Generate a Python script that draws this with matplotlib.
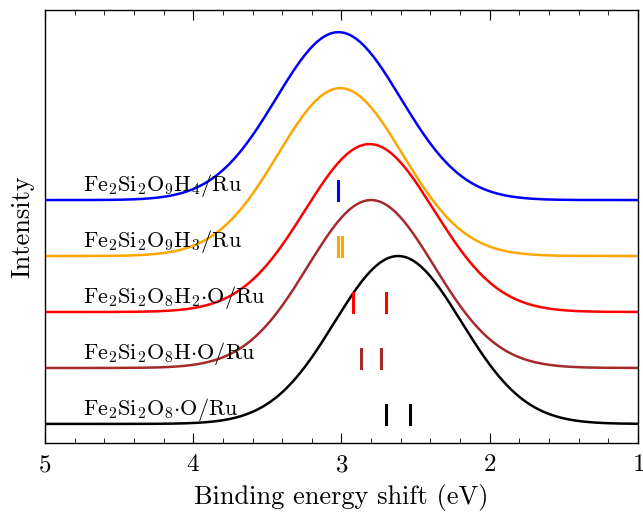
import numpy as np
import matplotlib
matplotlib.use("Agg")
import matplotlib.pyplot as plt
from matplotlib.ticker import MultipleLocator

plt.rcParams['font.family'] = 'serif'
plt.rcParams['font.serif'] = ['cmr10']
plt.rcParams['mathtext.fontset'] = 'cm'
plt.rcParams['axes.formatter.use_mathtext'] = True

# structures, bottom to top
labels = [r'$\mathrm{Fe_2Si_2O_8{\cdot}O/Ru}$',
          r'$\mathrm{Fe_2Si_2O_8H{\cdot}O/Ru}$',
          r'$\mathrm{Fe_2Si_2O_8H_2{\cdot}O/Ru}$',
          r'$\mathrm{Fe_2Si_2O_9H_3/Ru}$',
          r'$\mathrm{Fe_2Si_2O_9H_4/Ru}$']
colors = ['black', 'brown', 'red', 'orange', 'blue']
# core-level shifts (eV) of the individual Fe sites
sticks = [[2.70, 2.535],
          [2.87, 2.73],
          [2.92, 2.70],
          [3.02, 2.995],
          [3.02]]

sigma = 0.42
offset = 1.0 / 3.0
stick_h = 0.115

x = np.linspace(1, 5, 800)

fig, ax = plt.subplots(figsize=(6.43, 5.12), dpi=100)
for i, (lab, c, s) in enumerate(zip(labels, colors, sticks)):
    y = np.zeros_like(x)
    for e in s:
        y += np.exp(-(x - e) ** 2 / (2 * sigma ** 2))
    y = y / y.max() + i * offset
    ax.plot(x, y, color=c, lw=1.8)
    for e in s:
        ax.plot([e, e], [i * offset, i * offset + stick_h], color=c, lw=2.2)
    ax.text(4.745, i * offset + 0.085, lab, fontsize=16, va='center', ha='left')

ax.set_xlim(5, 1)
ax.set_ylim(-0.113, 2.464)
ax.set_yticks([])
ax.xaxis.set_major_locator(MultipleLocator(1))
ax.xaxis.set_minor_locator(MultipleLocator(0.2))
ax.tick_params(axis='x', which='both', direction='in', top=True, labelsize=18, pad=8)
ax.tick_params(axis='x', which='major', length=7)
ax.tick_params(axis='x', which='minor', length=3.5)
for sp in ax.spines.values():
    sp.set_linewidth(1.0)
ax.set_xlabel('Binding energy shift (eV)', fontsize=19, labelpad=6)
ax.set_ylabel('Intensity', fontsize=19, labelpad=8)

fig.subplots_adjust(left=0.070, right=0.992, top=0.980, bottom=0.135)
fig.savefig('out.png', dpi=100)
